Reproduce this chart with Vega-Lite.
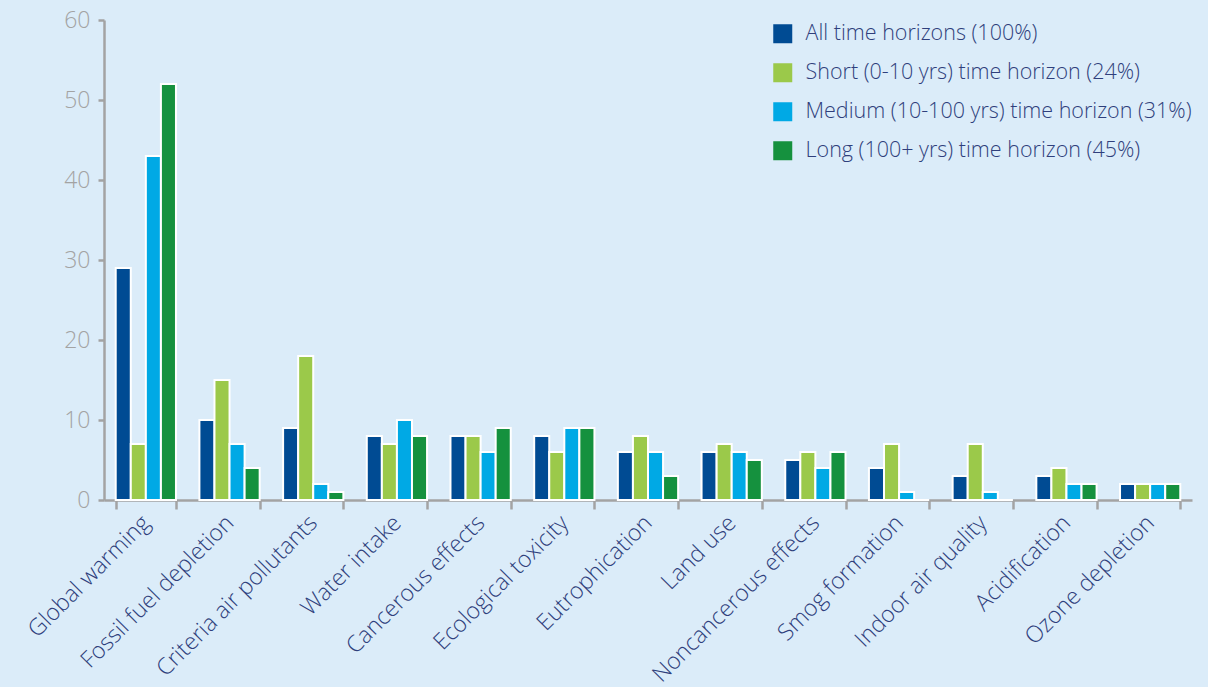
{
  "$schema": "https://vega.github.io/schema/vega-lite/v6.json",
  "autosize": "none",
  "width": 1088,
  "height": 480,
  "padding": {"left": 104, "top": 20, "right": 16, "bottom": 187},
  "background": "#dbecf9",
  "config": {"view": {"stroke": null}, "font": "Open Sans"},
  "data": {"values": [
    {"cat": "Global warming", "s": "All time horizons (100%)", "v": 29},
    {"cat": "Global warming", "s": "Short (0-10 yrs) time horizon (24%)", "v": 7},
    {"cat": "Global warming", "s": "Medium (10-100 yrs) time horizon (31%)", "v": 43},
    {"cat": "Global warming", "s": "Long (100+ yrs) time horizon (45%)", "v": 52},
    {"cat": "Fossil fuel depletion", "s": "All time horizons (100%)", "v": 10},
    {"cat": "Fossil fuel depletion", "s": "Short (0-10 yrs) time horizon (24%)", "v": 15},
    {"cat": "Fossil fuel depletion", "s": "Medium (10-100 yrs) time horizon (31%)", "v": 7},
    {"cat": "Fossil fuel depletion", "s": "Long (100+ yrs) time horizon (45%)", "v": 4},
    {"cat": "Criteria air pollutants", "s": "All time horizons (100%)", "v": 9},
    {"cat": "Criteria air pollutants", "s": "Short (0-10 yrs) time horizon (24%)", "v": 18},
    {"cat": "Criteria air pollutants", "s": "Medium (10-100 yrs) time horizon (31%)", "v": 2},
    {"cat": "Criteria air pollutants", "s": "Long (100+ yrs) time horizon (45%)", "v": 1},
    {"cat": "Water intake", "s": "All time horizons (100%)", "v": 8},
    {"cat": "Water intake", "s": "Short (0-10 yrs) time horizon (24%)", "v": 7},
    {"cat": "Water intake", "s": "Medium (10-100 yrs) time horizon (31%)", "v": 10},
    {"cat": "Water intake", "s": "Long (100+ yrs) time horizon (45%)", "v": 8},
    {"cat": "Cancerous effects", "s": "All time horizons (100%)", "v": 8},
    {"cat": "Cancerous effects", "s": "Short (0-10 yrs) time horizon (24%)", "v": 8},
    {"cat": "Cancerous effects", "s": "Medium (10-100 yrs) time horizon (31%)", "v": 6},
    {"cat": "Cancerous effects", "s": "Long (100+ yrs) time horizon (45%)", "v": 9},
    {"cat": "Ecological toxicity", "s": "All time horizons (100%)", "v": 8},
    {"cat": "Ecological toxicity", "s": "Short (0-10 yrs) time horizon (24%)", "v": 6},
    {"cat": "Ecological toxicity", "s": "Medium (10-100 yrs) time horizon (31%)", "v": 9},
    {"cat": "Ecological toxicity", "s": "Long (100+ yrs) time horizon (45%)", "v": 9},
    {"cat": "Eutrophication", "s": "All time horizons (100%)", "v": 6},
    {"cat": "Eutrophication", "s": "Short (0-10 yrs) time horizon (24%)", "v": 8},
    {"cat": "Eutrophication", "s": "Medium (10-100 yrs) time horizon (31%)", "v": 6},
    {"cat": "Eutrophication", "s": "Long (100+ yrs) time horizon (45%)", "v": 3},
    {"cat": "Land use", "s": "All time horizons (100%)", "v": 6},
    {"cat": "Land use", "s": "Short (0-10 yrs) time horizon (24%)", "v": 7},
    {"cat": "Land use", "s": "Medium (10-100 yrs) time horizon (31%)", "v": 6},
    {"cat": "Land use", "s": "Long (100+ yrs) time horizon (45%)", "v": 5},
    {"cat": "Noncancerous effects", "s": "All time horizons (100%)", "v": 5},
    {"cat": "Noncancerous effects", "s": "Short (0-10 yrs) time horizon (24%)", "v": 6},
    {"cat": "Noncancerous effects", "s": "Medium (10-100 yrs) time horizon (31%)", "v": 4},
    {"cat": "Noncancerous effects", "s": "Long (100+ yrs) time horizon (45%)", "v": 6},
    {"cat": "Smog formation", "s": "All time horizons (100%)", "v": 4},
    {"cat": "Smog formation", "s": "Short (0-10 yrs) time horizon (24%)", "v": 7},
    {"cat": "Smog formation", "s": "Medium (10-100 yrs) time horizon (31%)", "v": 1},
    {"cat": "Smog formation", "s": "Long (100+ yrs) time horizon (45%)", "v": 0},
    {"cat": "Indoor air quality", "s": "All time horizons (100%)", "v": 3},
    {"cat": "Indoor air quality", "s": "Short (0-10 yrs) time horizon (24%)", "v": 7},
    {"cat": "Indoor air quality", "s": "Medium (10-100 yrs) time horizon (31%)", "v": 1},
    {"cat": "Indoor air quality", "s": "Long (100+ yrs) time horizon (45%)", "v": 0},
    {"cat": "Acidification", "s": "All time horizons (100%)", "v": 3},
    {"cat": "Acidification", "s": "Short (0-10 yrs) time horizon (24%)", "v": 4},
    {"cat": "Acidification", "s": "Medium (10-100 yrs) time horizon (31%)", "v": 2},
    {"cat": "Acidification", "s": "Long (100+ yrs) time horizon (45%)", "v": 2},
    {"cat": "Ozone depletion", "s": "All time horizons (100%)", "v": 2},
    {"cat": "Ozone depletion", "s": "Short (0-10 yrs) time horizon (24%)", "v": 2},
    {"cat": "Ozone depletion", "s": "Medium (10-100 yrs) time horizon (31%)", "v": 2},
    {"cat": "Ozone depletion", "s": "Long (100+ yrs) time horizon (45%)", "v": 2}
  ]},
  "mark": {"type": "bar", "stroke": "white", "strokeWidth": 2},
  "encoding": {
    "x": {
      "field": "cat", "type": "nominal", "sort": null, "title": null,
      "scale": {"paddingInner": 0.28, "paddingOuter": 0.14},
      "axis": {
        "tickBand": "extent", "labelAngle": -45, "labelAlign": "right", "labelBaseline": "middle",
        "labelFontSize": 23, "labelColor": "#2f3f7c", "labelPadding": 10, "labelFontWeight": 300, "labelLimit": 400,
        "domainColor": "#a3a3a3", "domainWidth": 2.5, "tickColor": "#a3a3a3", "tickWidth": 2.5, "tickSize": 9
      }
    },
    "xOffset": {"field": "s", "type": "nominal", "sort": null, "scale": {"paddingInner": 0, "paddingOuter": 0}},
    "y": {
      "field": "v", "type": "quantitative", "title": null,
      "scale": {"domain": [0, 60]},
      "axis": {
        "values": [0, 10, 20, 30, 40, 50, 60], "grid": false,
        "labelFontSize": 23, "labelColor": "#a3a3a3", "labelPadding": 8, "labelFontWeight": 300,
        "domainColor": "#a3a3a3", "domainWidth": 2.5, "tickColor": "#a3a3a3", "tickWidth": 2.5, "tickSize": 6
      }
    },
    "color": {
      "field": "s", "type": "nominal", "sort": null, "title": null,
      "scale": {
        "domain": ["All time horizons (100%)", "Short (0-10 yrs) time horizon (24%)", "Medium (10-100 yrs) time horizon (31%)", "Long (100+ yrs) time horizon (45%)"],
        "range": ["#004b93", "#9bc94a", "#00a9e5", "#15913e"]
      },
      "legend": {
        "orient": "none", "legendX": 668, "legendY": 3,
        "symbolType": "square", "symbolSize": 361, "symbolStrokeWidth": 0,
        "labelFontSize": 21.5, "labelColor": "#2f3f7c", "labelFontWeight": 300, "labelOffset": 12,
        "rowPadding": 16, "labelLimit": 500
      }
    }
  }
}
